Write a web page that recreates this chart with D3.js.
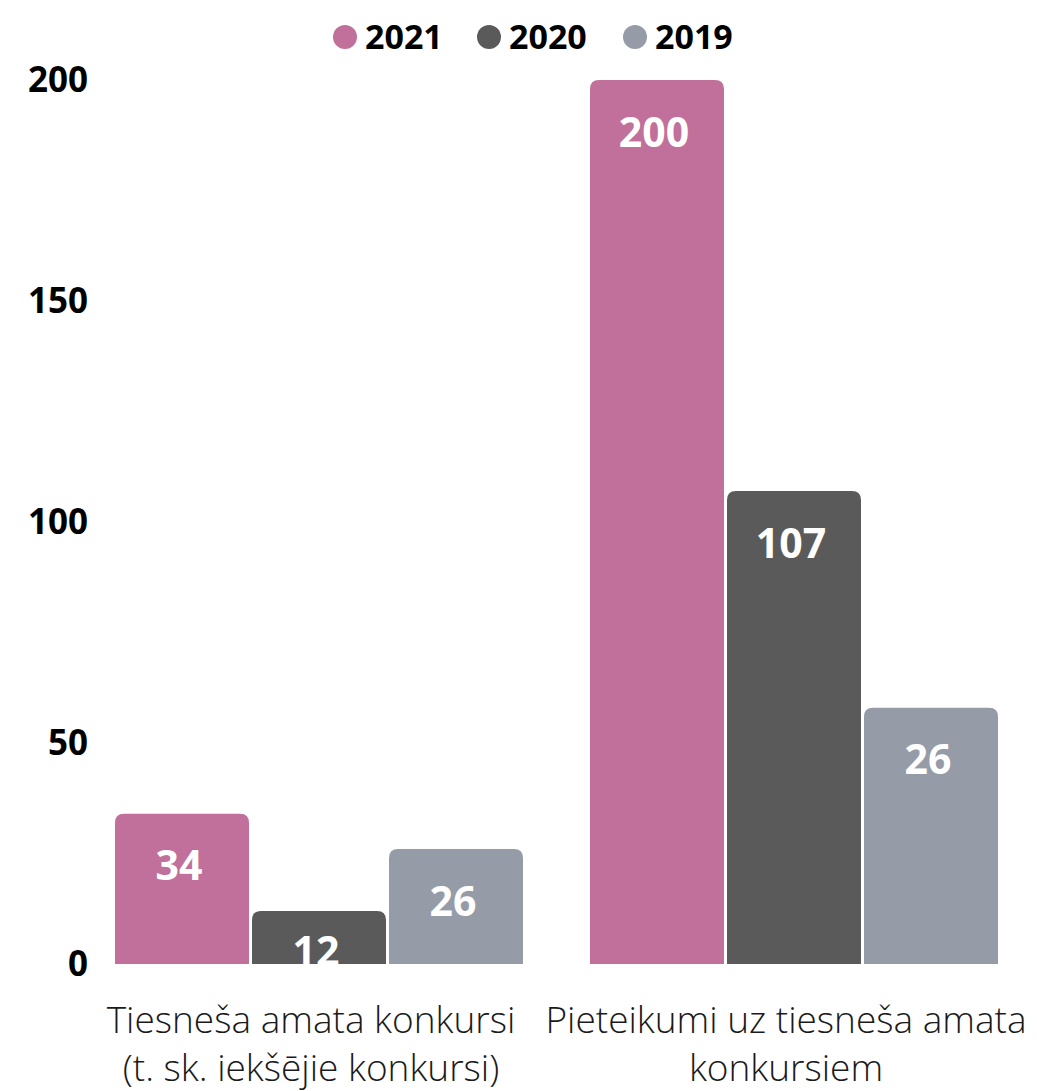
<!DOCTYPE html>
<html>
<head>
<meta charset="utf-8">
<script src="https://cdn.jsdelivr.net/npm/d3@7"></script>
<style>
  body { margin: 0; background: #fff; }
  svg { display: block; font-family: "Open Sans", sans-serif; }
</style>
</head>
<body>
<svg id="chart" width="1037" height="1091"></svg>
<script>
// data
var categories = [
    ["Tiesneša amata konkursi", "(t. sk. iekšējie konkursi)"],
    ["Pieteikumi uz tiesneša amata", "konkursiem"]
];
var series = ["2021", "2020", "2019"];
var values2021 = [34, 200];
var values2020 = [12, 107];
var values2019 = [26, 58];
// labels as printed on the bars (last one reads 26 although the bar is taller)
var labels2021 = ["34", "200"];
var labels2020 = ["12", "107"];
var labels2019 = ["26", "26"];
var yTicks = [0, 50, 100, 150, 200];
var colors = ["#c0709a", "#5a5a5a", "#959ba7"];

var svg = d3.select("#chart");

var x0 = d3.scaleBand()
    .domain([0, 1])
    .range([115, 998])
    .paddingInner(0.141)
    .paddingOuter(0);

var x1 = d3.scaleBand()
    .domain(series)
    .range([0, x0.bandwidth()])
    .paddingInner(0.022);

var y = d3.scaleLinear().domain([0, 200]).range([964, 80]);

var valueSets = [values2021, values2020, values2019];
var labelSets = [labels2021, labels2020, labels2019];

var bars = [];
categories.forEach(function (c, i) {
    series.forEach(function (s, j) {
        bars.push({cat: i, s: s, idx: j, v: valueSets[j][i], label: labelSets[j][i]});
    });
});

// rect path with rounded top corners
function topRounded(x, yTop, w, h, r) {
    r = Math.min(r, h, w / 2);
    return "M" + x + "," + (yTop + h) +
        "V" + (yTop + r) +
        "Q" + x + "," + yTop + " " + (x + r) + "," + yTop +
        "H" + (x + w - r) +
        "Q" + (x + w) + "," + yTop + " " + (x + w) + "," + (yTop + r) +
        "V" + (yTop + h) + "Z";
}

svg.append("clipPath").attr("id", "plotclip")
  .append("rect").attr("x", 0).attr("y", 0).attr("width", 1037).attr("height", y(0));

var g = svg.append("g").attr("clip-path", "url(#plotclip)");

g.selectAll("path.bar")
    .data(bars)
    .enter().append("path")
    .attr("class", "bar")
    .attr("fill", function (d) { return colors[d.idx]; })
    .attr("d", function (d) {
        var bx = x0(d.cat) + x1(d.s);
        return topRounded(bx, y(d.v), x1.bandwidth(), y(0) - y(d.v), 9);
    });

g.selectAll("text.val")
    .data(bars)
    .enter().append("text")
    .attr("class", "val")
    .attr("x", function (d) { return x0(d.cat) + x1(d.s) + x1.bandwidth() / 2 - 3; })
    .attr("y", function (d) { return y(d.v) + Math.min(52, (y(0) - y(d.v)) * 0.75); })
    .attr("dy", "0.36em")
    .attr("text-anchor", "middle")
    .attr("fill", "#fff")
    .style("font-size", "41px")
    .style("font-weight", 700)
    .text(function (d) { return d.label; });

// y axis, labels only
var yAxis = svg.append("g")
    .attr("transform", "translate(88,0)")
    .call(d3.axisLeft(y).tickValues(yTicks).tickSize(0).tickPadding(0));
yAxis.select(".domain").remove();
yAxis.selectAll("text")
    .attr("fill", "#000")
    .attr("dy", "0.34em")
    .style("font-family", "'Open Sans', sans-serif")
    .style("font-size", "35px")
    .style("font-weight", 700);

// category labels
var catG = svg.selectAll("text.cat")
    .data(categories)
    .enter().append("text")
    .attr("class", "cat")
    .attr("text-anchor", "middle")
    .attr("fill", "#1a1a1a")
    .style("font-size", "37px")
    .style("font-weight", 300)
    .attr("x", function (d, i) { return x0(i) + x0.bandwidth() / 2 - 8; })
    .attr("y", 1033);
catG.selectAll("tspan")
    .data(function (d) { return d; })
    .enter().append("tspan")
    .attr("x", function () { return d3.select(this.parentNode).attr("x"); })
    .attr("dy", function (d, k) { return k === 0 ? 0 : 48; })
    .text(function (d) { return d; });

// legend
var legendX = [345, 489, 635];
var leg = svg.selectAll("g.leg")
    .data(series)
    .enter().append("g")
    .attr("class", "leg")
    .attr("transform", function (d, i) { return "translate(" + legendX[i] + ",37)"; });
leg.append("circle").attr("r", 12).attr("fill", function (d, i) { return colors[i]; });
leg.append("text")
    .attr("x", 20)
    .attr("dy", "0.36em")
    .attr("fill", "#000")
    .style("font-size", "34px")
    .style("font-weight", 700)
    .text(function (d) { return d; });
</script>
</body>
</html>
